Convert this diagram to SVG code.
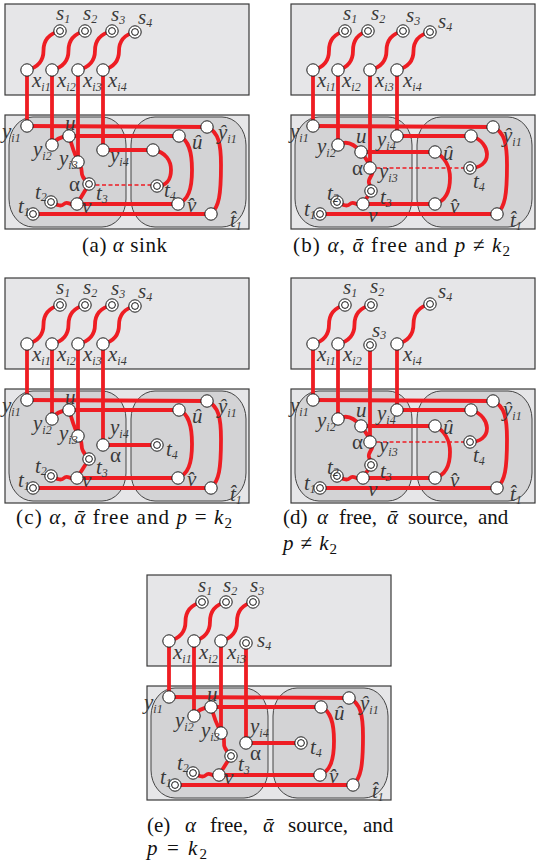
<svg xmlns="http://www.w3.org/2000/svg" width="536" height="866" viewBox="0 0 536 866">
<defs>
<style>
.bx{fill:#e6e6e8;stroke:#3a3a3a;stroke-width:1.2}
.rg{fill:#d3d3d5;stroke:#444;stroke-width:1}
.e{fill:none;stroke:#ee1d23;stroke-width:3.8;stroke-linecap:round;stroke-linejoin:round}
.dsh{fill:none;stroke:#ee1d23;stroke-width:1.3;stroke-dasharray:4 2.5}
.n{fill:#fff;stroke:#1a1a1a;stroke-width:1}
.lb{font-family:"Liberation Serif","Times New Roman",serif;font-style:italic;font-size:21px;fill:#3a3a3a}
.sb{font-size:12px}
.gr{font-style:normal}
.cap{font-family:"Liberation Serif","DejaVu Serif",serif;font-size:21px;fill:#111}
.mi{font-style:italic}
</style>
<circle id="nd" r="6.2" class="n"/>
<g id="dn"><circle r="6.2" class="n"/><circle r="3.4" class="n"/></g>
</defs>
<rect width="536" height="866" fill="#fff"/>

<!-- ============ PANEL A ============ -->
<g id="panel-a">
<rect class="bx" x="5" y="4" width="244" height="91"/>
<rect class="bx" x="5" y="115" width="244" height="114"/>
<rect class="rg" x="9" y="117" width="117" height="110" rx="24" ry="28"/>
<rect class="rg" x="131" y="117" width="115" height="110" rx="24" ry="28"/>
<g id="a-edges">
<path class="e" d="M27,70 Q43.5,66 43.5,50.5 Q43.5,35 60,31"/>
<path class="e" d="M52,70 Q68.5,66 68.5,50.5 Q68.5,35 85,31"/>
<path class="e" d="M78,70 Q95,66 95,50.5 Q95,35 112,31"/>
<path class="e" d="M103,70 Q119,66 119,51 Q119,36 135,32"/>
<path class="e" d="M27,70 V126 M52,70 V145 M78,70 V162 M103,70 V150"/>
<path class="e" d="M27,126 L207,127"/>
<path class="e" d="M207,127 C219,132 221,145 221,165 C221,195 219,207 211,214"/>
<path class="e" d="M33,214 H211"/>
<path class="e" d="M52,145 Q56,137 69,136"/>
<path class="e" d="M69,136 H179"/>
<path class="e" d="M179,136 C189,140 192,152 192,170 C192,190 188,200 178,204"/>
<path class="e" d="M178,204 H77"/>
<path class="e" d="M69,136 Q73,150 78,162"/>
<path class="e" d="M78,162 C84,168 80,173 83,177 C86,181 86,183 89,184"/>
<path class="e" d="M89,184 L77,204"/>
<path class="e" d="M77,204 C70,207 68,200 64,204 C61,207 57,205 51,202"/>
<path class="e" d="M103,150 H153"/>
<path class="e" d="M153,150 C166,152 171,161 171,170 C171,180 166,186 157,186"/>
<path class="dsh" d="M89,185 H157"/>
</g>
<g id="a-s1"><use href="#dn" x="60" y="31"/><text class="lb" x="56" y="20">s<tspan class="sb" dy="3">1</tspan></text></g>
<g id="a-s2"><use href="#dn" x="85" y="31"/><text class="lb" x="83" y="20">s<tspan class="sb" dy="3">2</tspan></text></g>
<g id="a-s3"><use href="#dn" x="112" y="31"/><text class="lb" x="111" y="21">s<tspan class="sb" dy="3">3</tspan></text></g>
<g id="a-s4"><use href="#dn" x="135" y="32"/><text class="lb" x="138" y="24">s<tspan class="sb" dy="3">4</tspan></text></g>
<g id="a-xi1"><use href="#nd" x="27" y="70"/><text class="lb" x="32" y="87">x<tspan class="sb" dy="4">i1</tspan></text></g>
<g id="a-xi2"><use href="#nd" x="52" y="70"/><text class="lb" x="57" y="87">x<tspan class="sb" dy="4">i2</tspan></text></g>
<g id="a-xi3"><use href="#nd" x="78" y="70"/><text class="lb" x="83" y="87">x<tspan class="sb" dy="4">i3</tspan></text></g>
<g id="a-xi4"><use href="#nd" x="103" y="70"/><text class="lb" x="108" y="87">x<tspan class="sb" dy="4">i4</tspan></text></g>
<g id="a-yi1"><use href="#nd" x="27" y="126"/><text class="lb" x="2" y="138">y<tspan class="sb" dy="4">i1</tspan></text></g>
<g id="a-u"><use href="#nd" x="69" y="136"/><text class="lb" x="65" y="130">u</text></g>
<g id="a-yi2"><use href="#nd" x="52" y="145"/><text class="lb" x="33" y="156">y<tspan class="sb" dy="4">i2</tspan></text></g>
<g id="a-yi3"><use href="#nd" x="78" y="162"/><text class="lb" x="59" y="165">y<tspan class="sb" dy="4">i3</tspan></text></g>
<g id="a-yi4"><use href="#nd" x="103" y="150"/><text class="lb" x="110" y="162">y<tspan class="sb" dy="4">i4</tspan></text></g>
<g id="a-alpha"><use href="#dn" x="89" y="184"/><text class="lb gr" x="69" y="191">α</text><text class="lb" x="96" y="200">t<tspan class="sb" dy="3">3</tspan></text></g>
<g id="a-t2"><use href="#dn" x="51" y="202"/><text class="lb" x="35" y="199">t<tspan class="sb" dy="2">2</tspan></text></g>
<g id="a-v"><use href="#nd" x="77" y="204"/><text class="lb" x="82" y="213">v</text></g>
<g id="a-t1"><use href="#dn" x="33" y="214"/><text class="lb" x="18" y="213">t<tspan class="sb" dy="3">1</tspan></text></g>
<g id="a-hyi1"><use href="#nd" x="207" y="127"/><text class="lb" x="218" y="139">ŷ<tspan class="sb" dy="4">i1</tspan></text></g>
<g id="a-hu"><use href="#nd" x="179" y="136"/><text class="lb" x="192" y="149">û</text></g>
<g id="a-w"><use href="#nd" x="153" y="150"/></g>
<g id="a-t4"><use href="#dn" x="157" y="186"/><text class="lb" x="164" y="197">t<tspan class="sb" dy="3">4</tspan></text></g>
<g id="a-hv"><use href="#nd" x="178" y="204"/><text class="lb" x="187" y="212">v̂</text></g>
<g id="a-ht1"><use href="#nd" x="211" y="214"/><text class="lb" x="230" y="227">t̂<tspan class="sb" dy="3">1</tspan></text></g>
</g>

<!-- ============ PANEL B ============ -->
<g id="panel-b" transform="translate(286,0)">
<rect class="bx" x="5" y="4" width="244" height="91"/>
<rect class="bx" x="5" y="115" width="244" height="114"/>
<rect class="rg" x="9" y="117" width="117" height="110" rx="24" ry="28"/>
<rect class="rg" x="131" y="117" width="115" height="110" rx="24" ry="28"/>
<g id="b-edges">
<path class="e" d="M27,70 Q43,66 43,50.5 Q43,35 59,31"/>
<path class="e" d="M52,70 Q67,66 67,50.5 Q67,35 82,31"/>
<path class="e" d="M84,70 Q100.5,66 100.5,50.5 Q100.5,35 117,31"/>
<path class="e" d="M111,70 Q127.5,66 127.5,51 Q127.5,36 144,32"/>
<path class="e" d="M27,70 V126 M52,70 V145 M84,70 V168 M111,70 V136"/>
<path class="e" d="M27,126 L207,127"/>
<path class="e" d="M207,127 C219,132 221,145 221,165 C221,195 219,207 211,214"/>
<path class="e" d="M34,214 H211"/>
<path class="e" d="M111,136 H185"/>
<path class="e" d="M185,136 C196,139 201,148 201,154 C201,163 194,168 184,168"/>
<path class="e" d="M75,152 H149"/>
<path class="e" d="M149,152 C159,157 164,167 164,178 C164,193 159,201 149,204"/>
<path class="e" d="M149,204 H77"/>
<path class="e" d="M52,145 C62,139 70,146 75,152 C80,158 83,163 84,168"/>
<path class="e" d="M84,168 C91,173 81,178 83,183 C84,187 86,188 85,191"/>
<path class="e" d="M85,191 L77,204"/>
<path class="e" d="M77,204 C70,207 68,200 64,204 C61,207 57,205 51,202"/>
<path class="dsh" d="M84,168 H184"/>
</g>
<g id="b-s1"><use href="#dn" x="59" y="31"/><text class="lb" x="57" y="20">s<tspan class="sb" dy="3">1</tspan></text></g>
<g id="b-s2"><use href="#dn" x="82" y="31"/><text class="lb" x="85" y="20">s<tspan class="sb" dy="3">2</tspan></text></g>
<g id="b-s3"><use href="#dn" x="117" y="31"/><text class="lb" x="120" y="22">s<tspan class="sb" dy="3">3</tspan></text></g>
<g id="b-s4"><use href="#dn" x="144" y="32"/><text class="lb" x="152" y="28">s<tspan class="sb" dy="3">4</tspan></text></g>
<g id="b-xi1"><use href="#nd" x="27" y="70"/><text class="lb" x="31" y="87">x<tspan class="sb" dy="4">i1</tspan></text></g>
<g id="b-xi2"><use href="#nd" x="52" y="70"/><text class="lb" x="56" y="87">x<tspan class="sb" dy="4">i2</tspan></text></g>
<g id="b-xi3"><use href="#nd" x="84" y="70"/><text class="lb" x="89" y="87">x<tspan class="sb" dy="4">i3</tspan></text></g>
<g id="b-xi4"><use href="#nd" x="111" y="70"/><text class="lb" x="117" y="87">x<tspan class="sb" dy="4">i4</tspan></text></g>
<g id="b-yi1"><use href="#nd" x="27" y="126"/><text class="lb" x="4" y="138">y<tspan class="sb" dy="4">i1</tspan></text></g>
<g id="b-yi2"><use href="#nd" x="52" y="145"/><text class="lb" x="31" y="153">y<tspan class="sb" dy="4">i2</tspan></text></g>
<g id="b-u"><use href="#nd" x="75" y="152"/><text class="lb" x="70" y="143">u</text></g>
<g id="b-yi4"><use href="#nd" x="111" y="136"/><text class="lb" x="91" y="146">y<tspan class="sb" dy="4">i4</tspan></text></g>
<g id="b-alpha"><use href="#nd" x="84" y="168"/><text class="lb gr" x="66" y="175">α</text><text class="lb" x="93" y="178">y<tspan class="sb" dy="4">i3</tspan></text></g>
<g id="b-t3"><use href="#dn" x="85" y="191"/><text class="lb" x="94" y="204">t<tspan class="sb" dy="3">3</tspan></text></g>
<g id="b-t2"><use href="#dn" x="51" y="202"/><text class="lb" x="41" y="200">t<tspan class="sb" dy="2">2</tspan></text></g>
<g id="b-v"><use href="#nd" x="77" y="204"/><text class="lb" x="82" y="222">v</text></g>
<g id="b-t1"><use href="#dn" x="34" y="214"/><text class="lb" x="18" y="216">t<tspan class="sb" dy="3">1</tspan></text></g>
<g id="b-hyi1"><use href="#nd" x="207" y="127"/><text class="lb" x="217" y="142">ŷ<tspan class="sb" dy="4">i1</tspan></text></g>
<g id="b-w"><use href="#nd" x="185" y="136"/></g>
<g id="b-hu"><use href="#nd" x="149" y="152"/><text class="lb" x="157" y="160">û</text></g>
<g id="b-t4"><use href="#dn" x="184" y="168"/><text class="lb" x="187" y="188">t<tspan class="sb" dy="3">4</tspan></text></g>
<g id="b-hv"><use href="#nd" x="149" y="204"/><text class="lb" x="164" y="213">v̂</text></g>
<g id="b-ht1"><use href="#nd" x="211" y="214"/><text class="lb" x="224" y="227">t̂<tspan class="sb" dy="3">1</tspan></text></g>
</g>

<!-- ============ PANEL C ============ -->
<g id="panel-c" transform="translate(0,274)">
<rect class="bx" x="5" y="4" width="244" height="91"/>
<rect class="bx" x="5" y="115" width="244" height="114"/>
<rect class="rg" x="9" y="117" width="117" height="110" rx="24" ry="28"/>
<rect class="rg" x="131" y="117" width="115" height="110" rx="24" ry="28"/>
<g id="c-edges">
<path class="e" d="M27,70 Q43.5,66 43.5,50.5 Q43.5,35 60,31"/>
<path class="e" d="M52,70 Q68.5,66 68.5,50.5 Q68.5,35 85,31"/>
<path class="e" d="M78,70 Q95,66 95,50.5 Q95,35 112,31"/>
<path class="e" d="M103,70 Q119,66 119,51 Q119,36 135,32"/>
<path class="e" d="M27,70 V126 M52,70 V145 M78,70 V162 M103,70 V171"/>
<path class="e" d="M27,126 L207,127"/>
<path class="e" d="M207,127 C219,132 221,145 221,165 C221,195 219,207 211,214"/>
<path class="e" d="M33,214 H211"/>
<path class="e" d="M52,145 Q56,137 69,136"/>
<path class="e" d="M69,136 H179"/>
<path class="e" d="M179,136 C189,140 192,152 192,170 C192,190 188,200 178,204"/>
<path class="e" d="M178,204 H77"/>
<path class="e" d="M69,136 Q73,150 78,162"/>
<path class="e" d="M78,162 C84,168 80,173 83,177 C86,181 86,184 89,185"/>
<path class="e" d="M89,185 L77,204"/>
<path class="e" d="M77,204 C70,207 68,200 64,204 C61,207 57,205 51,202"/>
<path class="e" d="M103,171 H157"/>
</g>
<g id="c-s1"><use href="#dn" x="60" y="31"/><text class="lb" x="56" y="20">s<tspan class="sb" dy="3">1</tspan></text></g>
<g id="c-s2"><use href="#dn" x="85" y="31"/><text class="lb" x="83" y="20">s<tspan class="sb" dy="3">2</tspan></text></g>
<g id="c-s3"><use href="#dn" x="112" y="31"/><text class="lb" x="111" y="21">s<tspan class="sb" dy="3">3</tspan></text></g>
<g id="c-s4"><use href="#dn" x="135" y="32"/><text class="lb" x="138" y="24">s<tspan class="sb" dy="3">4</tspan></text></g>
<g id="c-xi1"><use href="#nd" x="27" y="70"/><text class="lb" x="32" y="87">x<tspan class="sb" dy="4">i1</tspan></text></g>
<g id="c-xi2"><use href="#nd" x="52" y="70"/><text class="lb" x="57" y="87">x<tspan class="sb" dy="4">i2</tspan></text></g>
<g id="c-xi3"><use href="#nd" x="78" y="70"/><text class="lb" x="83" y="87">x<tspan class="sb" dy="4">i3</tspan></text></g>
<g id="c-xi4"><use href="#nd" x="103" y="70"/><text class="lb" x="108" y="87">x<tspan class="sb" dy="4">i4</tspan></text></g>
<g id="c-yi1"><use href="#nd" x="27" y="126"/><text class="lb" x="2" y="138">y<tspan class="sb" dy="4">i1</tspan></text></g>
<g id="c-u"><use href="#nd" x="69" y="136"/><text class="lb" x="65" y="130">u</text></g>
<g id="c-yi2"><use href="#nd" x="52" y="145"/><text class="lb" x="33" y="156">y<tspan class="sb" dy="4">i2</tspan></text></g>
<g id="c-yi3"><use href="#nd" x="78" y="162"/><text class="lb" x="59" y="166">y<tspan class="sb" dy="4">i3</tspan></text></g>
<g id="c-yi4"><use href="#nd" x="103" y="171"/><text class="lb" x="110" y="160">y<tspan class="sb" dy="4">i4</tspan></text><text class="lb gr" x="110" y="188">α</text></g>
<g id="c-t3"><use href="#dn" x="89" y="185"/><text class="lb" x="96" y="200">t<tspan class="sb" dy="3">3</tspan></text></g>
<g id="c-t2"><use href="#dn" x="51" y="202"/><text class="lb" x="35" y="199">t<tspan class="sb" dy="2">2</tspan></text></g>
<g id="c-v"><use href="#nd" x="77" y="204"/><text class="lb" x="82" y="213">v</text></g>
<g id="c-t1"><use href="#dn" x="33" y="214"/><text class="lb" x="18" y="213">t<tspan class="sb" dy="3">1</tspan></text></g>
<g id="c-hyi1"><use href="#nd" x="207" y="127"/><text class="lb" x="218" y="139">ŷ<tspan class="sb" dy="4">i1</tspan></text></g>
<g id="c-hu"><use href="#nd" x="179" y="136"/><text class="lb" x="192" y="149">û</text></g>
<g id="c-t4"><use href="#dn" x="157" y="171"/><text class="lb" x="166" y="182">t<tspan class="sb" dy="3">4</tspan></text></g>
<g id="c-hv"><use href="#nd" x="178" y="204"/><text class="lb" x="187" y="212">v̂</text></g>
<g id="c-ht1"><use href="#nd" x="211" y="214"/><text class="lb" x="230" y="227">t̂<tspan class="sb" dy="3">1</tspan></text></g>
</g>

<!-- ============ PANEL D ============ -->
<g id="panel-d" transform="translate(286,274)">
<rect class="bx" x="5" y="4" width="244" height="91"/>
<rect class="bx" x="5" y="115" width="244" height="114"/>
<rect class="rg" x="9" y="117" width="117" height="110" rx="24" ry="28"/>
<rect class="rg" x="131" y="117" width="115" height="110" rx="24" ry="28"/>
<g id="d-edges">
<path class="e" d="M27,70 Q43,66 43,50.5 Q43,35 59,31"/>
<path class="e" d="M52,70 Q68.5,66 68.5,50.5 Q68.5,35 85,31"/>
<path class="e" d="M111,70 Q127.5,66 127.5,50 Q127.5,34 144,30"/>
<path class="e" d="M27,70 V126 M52,70 V145 M84,71 V168 M111,70 V136"/>
<path class="e" d="M27,126 L207,127"/>
<path class="e" d="M207,127 C219,132 221,145 221,165 C221,195 219,207 211,214"/>
<path class="e" d="M34,214 H211"/>
<path class="e" d="M111,136 H185"/>
<path class="e" d="M185,136 C196,139 201,148 201,154 C201,163 194,168 184,168"/>
<path class="e" d="M75,152 H149"/>
<path class="e" d="M149,152 C159,157 164,167 164,178 C164,193 159,201 149,204"/>
<path class="e" d="M149,204 H77"/>
<path class="e" d="M52,145 C62,139 70,146 75,152 C80,158 83,163 84,168"/>
<path class="e" d="M84,168 C91,173 81,178 83,183 C84,187 86,188 85,191"/>
<path class="e" d="M85,191 L77,204"/>
<path class="e" d="M77,204 C70,207 68,200 64,204 C61,207 57,205 51,202"/>
<path class="dsh" d="M84,168 H184"/>
</g>
<g id="d-s1"><use href="#dn" x="59" y="31"/><text class="lb" x="57" y="20">s<tspan class="sb" dy="3">1</tspan></text></g>
<g id="d-s2"><use href="#dn" x="85" y="31"/><text class="lb" x="84" y="19">s<tspan class="sb" dy="3">2</tspan></text></g>
<g id="d-s3"><use href="#dn" x="84" y="71"/><text class="lb" x="86" y="63">s<tspan class="sb" dy="2">3</tspan></text></g>
<g id="d-s4"><use href="#dn" x="144" y="30"/><text class="lb" x="152" y="24">s<tspan class="sb" dy="3">4</tspan></text></g>
<g id="d-xi1"><use href="#nd" x="27" y="70"/><text class="lb" x="31" y="87">x<tspan class="sb" dy="4">i1</tspan></text></g>
<g id="d-xi2"><use href="#nd" x="52" y="70"/><text class="lb" x="57" y="87">x<tspan class="sb" dy="4">i2</tspan></text></g>
<g id="d-xi4"><use href="#nd" x="111" y="70"/><text class="lb" x="117" y="87">x<tspan class="sb" dy="4">i4</tspan></text></g>
<g id="d-yi1"><use href="#nd" x="27" y="126"/><text class="lb" x="4" y="138">y<tspan class="sb" dy="4">i1</tspan></text></g>
<g id="d-yi2"><use href="#nd" x="52" y="145"/><text class="lb" x="31" y="153">y<tspan class="sb" dy="4">i2</tspan></text></g>
<g id="d-u"><use href="#nd" x="75" y="152"/><text class="lb" x="70" y="143">u</text></g>
<g id="d-yi4"><use href="#nd" x="111" y="136"/><text class="lb" x="91" y="146">y<tspan class="sb" dy="4">i4</tspan></text></g>
<g id="d-alpha"><use href="#nd" x="84" y="168"/><text class="lb gr" x="66" y="175">α</text><text class="lb" x="93" y="178">y<tspan class="sb" dy="4">i3</tspan></text></g>
<g id="d-t3"><use href="#dn" x="85" y="191"/><text class="lb" x="94" y="204">t<tspan class="sb" dy="3">3</tspan></text></g>
<g id="d-t2"><use href="#dn" x="51" y="202"/><text class="lb" x="41" y="200">t<tspan class="sb" dy="2">2</tspan></text></g>
<g id="d-v"><use href="#nd" x="77" y="204"/><text class="lb" x="82" y="222">v</text></g>
<g id="d-t1"><use href="#dn" x="34" y="214"/><text class="lb" x="18" y="216">t<tspan class="sb" dy="3">1</tspan></text></g>
<g id="d-hyi1"><use href="#nd" x="207" y="127"/><text class="lb" x="217" y="142">ŷ<tspan class="sb" dy="4">i1</tspan></text></g>
<g id="d-w"><use href="#nd" x="185" y="136"/></g>
<g id="d-hu"><use href="#nd" x="149" y="152"/><text class="lb" x="157" y="160">û</text></g>
<g id="d-t4"><use href="#dn" x="184" y="168"/><text class="lb" x="187" y="188">t<tspan class="sb" dy="3">4</tspan></text></g>
<g id="d-hv"><use href="#nd" x="149" y="204"/><text class="lb" x="164" y="213">v̂</text></g>
<g id="d-ht1"><use href="#nd" x="211" y="214"/><text class="lb" x="224" y="227">t̂<tspan class="sb" dy="3">1</tspan></text></g>
</g>

<!-- ============ PANEL E ============ -->
<g id="panel-e" transform="translate(142,571)">
<rect class="bx" x="5" y="4" width="244" height="91"/>
<rect class="bx" x="5" y="115" width="244" height="114"/>
<rect class="rg" x="9" y="117" width="117" height="110" rx="24" ry="28"/>
<rect class="rg" x="131" y="117" width="115" height="110" rx="24" ry="28"/>
<g id="e-edges">
<path class="e" d="M27,70 Q43.5,66 43.5,50.5 Q43.5,35 60,31"/>
<path class="e" d="M52,70 Q68,66 68,50.5 Q68,35 84,31"/>
<path class="e" d="M79,70 Q95,66 95,50.5 Q95,35 111,31"/>
<path class="e" d="M27,70 V126 M52,70 V145 M79,70 V162 M104,72 V172"/>
<path class="e" d="M27,126 L207,127"/>
<path class="e" d="M207,127 C219,132 221,145 221,165 C221,195 219,207 211,214"/>
<path class="e" d="M33,214 H211"/>
<path class="e" d="M52,145 Q56,137 69,136"/>
<path class="e" d="M69,136 H179"/>
<path class="e" d="M179,136 C189,140 192,152 192,170 C192,190 188,200 178,204"/>
<path class="e" d="M178,204 H77"/>
<path class="e" d="M69,136 Q73,150 79,162"/>
<path class="e" d="M79,162 C85,168 80,173 83,177 C86,181 86,184 89,185"/>
<path class="e" d="M89,185 L77,204"/>
<path class="e" d="M77,204 C70,207 68,200 64,204 C61,207 57,205 51,202"/>
<path class="e" d="M104,172 H159"/>
</g>
<g id="e-s1"><use href="#dn" x="60" y="31"/><text class="lb" x="56" y="21">s<tspan class="sb" dy="3">1</tspan></text></g>
<g id="e-s2"><use href="#dn" x="84" y="31"/><text class="lb" x="81" y="21">s<tspan class="sb" dy="3">2</tspan></text></g>
<g id="e-s3"><use href="#dn" x="111" y="31"/><text class="lb" x="108" y="21">s<tspan class="sb" dy="3">3</tspan></text></g>
<g id="e-s4"><use href="#dn" x="104" y="72"/><text class="lb" x="115" y="76">s<tspan class="sb" dy="3">4</tspan></text></g>
<g id="e-xi1"><use href="#nd" x="27" y="70"/><text class="lb" x="31" y="88">x<tspan class="sb" dy="4">i1</tspan></text></g>
<g id="e-xi2"><use href="#nd" x="52" y="70"/><text class="lb" x="57" y="88">x<tspan class="sb" dy="4">i2</tspan></text></g>
<g id="e-xi3"><use href="#nd" x="79" y="70"/><text class="lb" x="85" y="88">x<tspan class="sb" dy="4">i3</tspan></text></g>
<g id="e-yi1"><use href="#nd" x="27" y="126"/><text class="lb" x="2" y="138">y<tspan class="sb" dy="4">i1</tspan></text></g>
<g id="e-u"><use href="#nd" x="69" y="136"/><text class="lb" x="65" y="130">u</text></g>
<g id="e-yi2"><use href="#nd" x="52" y="145"/><text class="lb" x="33" y="156">y<tspan class="sb" dy="4">i2</tspan></text></g>
<g id="e-yi3"><use href="#nd" x="79" y="162"/><text class="lb" x="59" y="166">y<tspan class="sb" dy="4">i3</tspan></text></g>
<g id="e-yi4"><use href="#nd" x="104" y="172"/><text class="lb" x="108" y="162">y<tspan class="sb" dy="4">i4</tspan></text><text class="lb gr" x="108" y="189">α</text></g>
<g id="e-t3"><use href="#dn" x="89" y="185"/><text class="lb" x="96" y="200">t<tspan class="sb" dy="3">3</tspan></text></g>
<g id="e-t2"><use href="#dn" x="51" y="202"/><text class="lb" x="35" y="199">t<tspan class="sb" dy="2">2</tspan></text></g>
<g id="e-v"><use href="#nd" x="77" y="204"/><text class="lb" x="82" y="213">v</text></g>
<g id="e-t1"><use href="#dn" x="33" y="214"/><text class="lb" x="18" y="213">t<tspan class="sb" dy="3">1</tspan></text></g>
<g id="e-hyi1"><use href="#nd" x="207" y="127"/><text class="lb" x="218" y="139">ŷ<tspan class="sb" dy="4">i1</tspan></text></g>
<g id="e-hu"><use href="#nd" x="179" y="136"/><text class="lb" x="192" y="149">û</text></g>
<g id="e-t4"><use href="#dn" x="159" y="172"/><text class="lb" x="168" y="183">t<tspan class="sb" dy="3">4</tspan></text></g>
<g id="e-hv"><use href="#nd" x="178" y="204"/><text class="lb" x="187" y="212">v̂</text></g>
<g id="e-ht1"><use href="#nd" x="211" y="214"/><text class="lb" x="230" y="227">t̂<tspan class="sb" dy="3">1</tspan></text></g>
</g>

<!-- ============ CAPTIONS ============ -->
<g id="captions">
<text class="cap" x="82" y="252" textLength="85" lengthAdjust="spacing">(a) <tspan class="mi">α</tspan> sink</text>
<text class="cap" x="293" y="252" textLength="217" lengthAdjust="spacing">(b) <tspan class="mi">α</tspan>, <tspan class="mi">ᾱ</tspan> free and <tspan class="mi">p</tspan> ≠ <tspan class="mi">k</tspan><tspan font-size="15" dy="4">2</tspan></text>
<text class="cap" x="16" y="524" textLength="216" lengthAdjust="spacing">(c) <tspan class="mi">α</tspan>, <tspan class="mi">ᾱ</tspan> free and <tspan class="mi">p</tspan> = <tspan class="mi">k</tspan><tspan font-size="15" dy="4">2</tspan></text>
<text class="cap" y="524"><tspan x="283">(d)</tspan><tspan x="317" class="mi">α</tspan><tspan x="339">free,</tspan><tspan x="387" class="mi">ᾱ</tspan><tspan x="408">source,</tspan><tspan x="478">and</tspan></text>
<text class="cap" x="283" y="550" textLength="54" lengthAdjust="spacing"><tspan class="mi">p</tspan> ≠ <tspan class="mi">k</tspan><tspan font-size="15" dy="4">2</tspan></text>
<text class="cap" y="832"><tspan x="147">(e)</tspan><tspan x="185" class="mi">α</tspan><tspan x="210">free,</tspan><tspan x="263" class="mi">ᾱ</tspan><tspan x="288">source,</tspan><tspan x="363">and</tspan></text>
<text class="cap" x="147" y="855" textLength="60" lengthAdjust="spacing"><tspan class="mi">p</tspan> = <tspan class="mi">k</tspan><tspan font-size="15" dy="4">2</tspan></text>
</g>
</svg>
